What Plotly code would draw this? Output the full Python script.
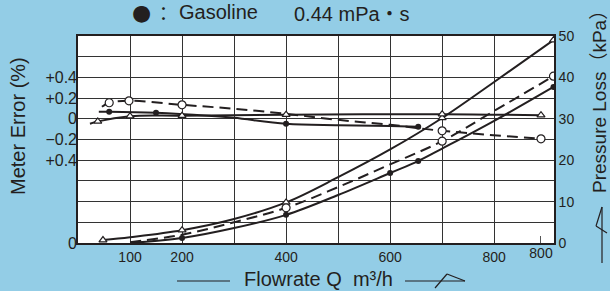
import plotly.graph_objects as go

# ---------------- data ----------------
# Pressure loss curves (kPa) vs flowrate Q (m3/h)
pa_q = [48, 100, 200, 300, 400, 500, 600, 700, 800, 914]
pa_kpa = [0.7, 1.4, 3.1, 5.8, 9.8, 15.9, 22.6, 30.2, 38.9, 49.0]
pa_mq = [48, 200, 400, 700, 914]
pa_mkpa = [0.7, 3.1, 9.8, 30.2, 49.0]

pb_q = [100, 200, 300, 400, 500, 600, 700, 800, 914]
pb_kpa = [0.2, 2.0, 5.0, 8.5, 13.5, 19.0, 24.6, 31.9, 40.3]
pb_mq = [400, 700, 914]
pb_mkpa = [8.5, 24.6, 40.3]

pc_q = [100, 200, 300, 400, 500, 600, 654, 700, 800, 914]
pc_kpa = [0.0, 1.2, 3.6, 6.8, 11.6, 16.9, 19.8, 22.8, 29.5, 37.7]
pc_mq = [200, 400, 600, 654, 914]
pc_mkpa = [1.2, 6.8, 16.9, 19.8, 37.7]

# Meter error curves (%) vs flowrate Q
ed_q = [46, 60, 98, 200, 300, 400, 500, 600, 700, 890]
ed_err = [0.116, 0.155, 0.174, 0.135, 0.097, 0.048, -0.01, -0.058, -0.116, -0.193]
ed_mq = [60, 98, 200, 700, 890]
ed_merr = [0.155, 0.174, 0.135, -0.116, -0.193]

ee_q = [40, 60, 150, 250, 300, 400, 500, 600, 654]
ee_err = [0.068, 0.068, 0.058, 0.03, 0.01, -0.048, -0.062, -0.07, -0.077]
ee_mq = [60, 150, 400, 654]
ee_merr = [0.068, 0.058, -0.048, -0.077]

ef_q = [23, 38, 100, 200, 400, 700, 890]
ef_err = [-0.048, -0.025, 0.025, 0.03, 0.04, 0.045, 0.035]
ef_mq = [38, 100, 200, 400, 700, 890]
ef_merr = [-0.025, 0.025, 0.03, 0.04, 0.045, 0.035]

x_ticks = [100, 200, 300, 400, 500, 600, 700, 800]
x_labels = ["100", "200", "", "400", "", "600", "", "800"]
x_extra_tick = [890]
x_extra_label = ["800"]
p_ticks = [0, 5, 10, 15, 20, 25, 30, 35, 40, 45, 50]
p_labels = ["0", "", "10", "", "20", "", "30", "", "40", "", "50"]
e_ticks = [0.4, 0.2, 0, -0.2, -0.4, -1.2]
e_labels = ["+0.4", "+0.2", "0", "\u22120.2", "+0.4", "0"]

# ---------------- style ----------------
BG = "#93CDE6"
INK = "#231F20"
GRID = "#333333"
FONT = "Liberation Sans, Arial, Noto Sans CJK JP, sans-serif"
W, H = 610, 291
L, R, T, B = 78, 56, 36, 48
PW, PH = W - L - R, H - T - B


def fx(p):
    return (p - L) / PW


def fy(p):
    return (H - B - p) / PH


fig = go.Figure()


def curve(q, v, dash, yaxis):
    fig.add_trace(go.Scatter(x=q, y=v, mode="lines", yaxis=yaxis,
                             line=dict(color=INK, width=2, dash=dash, shape="spline", smoothing=1.0),
                             hoverinfo="skip", showlegend=False))


def marks(q, v, kind, yaxis):
    if kind == "tri":
        m = dict(symbol="triangle-up", size=7, color="white", line=dict(color=INK, width=1.2))
    elif kind == "circ":
        m = dict(symbol="circle", size=8, color="white", line=dict(color=INK, width=1.2))
    else:
        m = dict(symbol="circle", size=6, color=INK, line=dict(color=INK, width=0))
    fig.add_trace(go.Scatter(x=q, y=v, mode="markers", yaxis=yaxis, marker=m,
                             hoverinfo="skip", showlegend=False))


DASH = "11px,6px"
curve(ed_q, ed_err, DASH, "y2")
curve(ee_q, ee_err, "solid", "y2")
curve(ef_q, ef_err, "solid", "y2")
curve(pa_q, pa_kpa, "solid", "y")
curve(pb_q, pb_kpa, DASH, "y")
curve(pc_q, pc_kpa, "solid", "y")
marks(ed_mq, ed_merr, "circ", "y2")
marks(ee_mq, ee_merr, "dot", "y2")
marks(ef_mq, ef_merr, "tri", "y2")
marks(pa_mq, pa_mkpa, "tri", "y")
marks(pb_mq, pb_mkpa, "circ", "y")
marks(pc_mq, pc_mkpa, "dot", "y")

# invisible trace to activate the secondary x axis
fig.add_trace(go.Scatter(x=[x_extra_tick[0]], y=[0], xaxis="x2", mode="markers",
                         marker=dict(size=0, opacity=0), hoverinfo="skip", showlegend=False))

tickfont = dict(family=FONT, size=14, color=INK)
fig.update_layout(
    width=W, height=H,
    margin=dict(l=L, r=R, t=T, b=B, pad=0),
    paper_bgcolor=BG, plot_bgcolor="white",
    font=dict(family=FONT, color=INK),
    xaxis=dict(range=[0, 915], tickvals=x_ticks, ticktext=x_labels, tickfont=tickfont,
               showgrid=True, gridcolor=GRID, gridwidth=1.3, zeroline=False,
               showline=True, linecolor=INK, linewidth=1.6, mirror=True, ticks="", ticklen=2),
    xaxis2=dict(range=[0, 915], overlaying="x", side="bottom", anchor="y",
                tickvals=x_extra_tick, ticktext=x_extra_label, tickfont=tickfont,
                showgrid=False, zeroline=False, ticks="inside", ticklen=7, tickcolor="#555",
                tickwidth=1, showline=False),
    yaxis=dict(range=[0, 50], side="right", tickvals=p_ticks, ticktext=p_labels, tickfont=tickfont,
               showgrid=True, gridcolor=GRID, gridwidth=1.3, zeroline=False,
               showline=True, linecolor=INK, linewidth=1.6, mirror=True, ticks="", ticklen=4),
    yaxis2=dict(range=[-1.2, 0.8], overlaying="y", side="left", anchor="x",
                tickvals=e_ticks, ticktext=e_labels, tickfont=dict(family=FONT, size=16, color=INK),
                showgrid=False, zeroline=False, showline=False, ticks="", ticklen=5),
)

ann = []


def text(t, x, y, size, angle=0, xanchor="center", family=FONT):
    ann.append(dict(text=t, x=fx(x), y=fy(y), xref="paper", yref="paper", showarrow=False,
                    xanchor=xanchor, yanchor="middle", textangle=angle,
                    font=dict(family=family, size=size, color=INK)))


text("\u25CF", 141, 13, 22, family="DejaVu Sans")
text("\uFF1A", 163, 13, 19, family="Noto Sans CJK JP")
text("Gasoline", 177, 12, 20, xanchor="left")
text("0.44 mPa\u30FBs", 292, 14, 20, xanchor="left")
text("Meter Error (%)", 18, 126, 20, angle=-90)
text("Pressure Loss\uFF08kPa\uFF09", 599, 97, 19, angle=-90)
text("Flowrate Q\u00a0\u00a0m\u00b3/h", 318, 279, 20)
fig.update_layout(annotations=ann)

shapes = []


def seg(x0, y0, x1, y1):
    shapes.append(dict(type="line", xref="paper", yref="paper", x0=fx(x0), y0=fy(y0), x1=fx(x1), y1=fy(y1),
                       line=dict(color=INK, width=1.2)))


seg(177, 281, 230, 281)
seg(405, 281, 465, 281)
seg(435, 288, 447, 274)
seg(447, 274, 465, 281)
seg(602, 207, 602, 263)
seg(602, 207, 596, 226)
seg(596, 226, 607, 233)
fig.update_layout(shapes=shapes)

fig.write_html("out.html", config={"displayModeBar": False},
               post_script="document.body.style.margin='0';document.body.style.padding='0';")
